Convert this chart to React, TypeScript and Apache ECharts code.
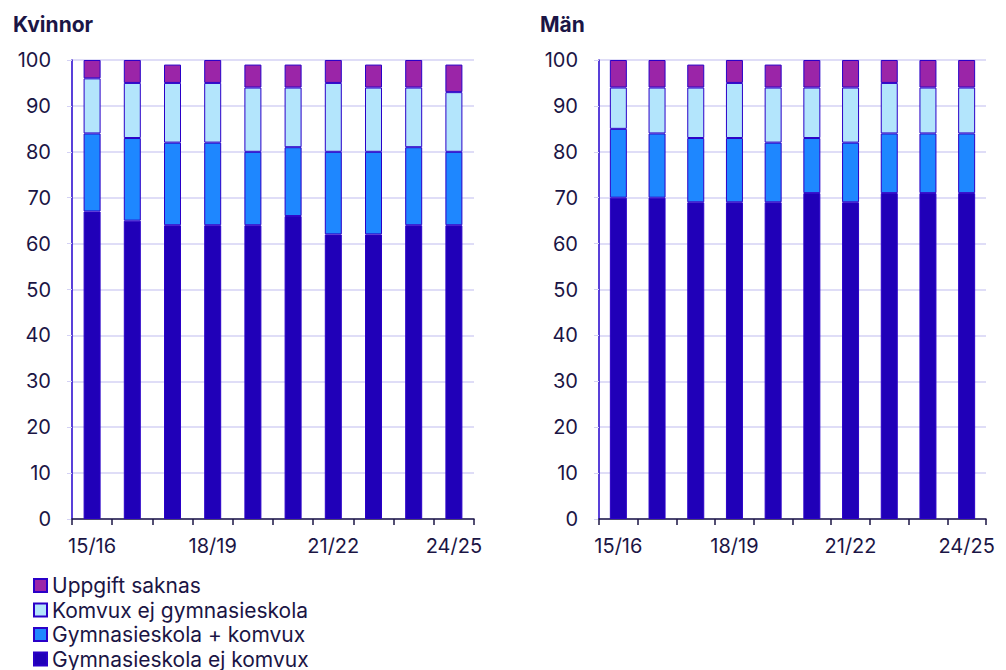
import React, { useEffect, useRef } from "react";
import * as echarts from "echarts";

const categories = ["15/16", "16/17", "17/18", "18/19", "19/20", "20/21", "21/22", "22/23", "23/24", "24/25"];

const seriesNames = [
  "Gymnasieskola ej komvux",
  "Gymnasieskola + komvux",
  "Komvux ej gymnasieskola",
  "Uppgift saknas",
];

const kvinnorEjKomvux = [67, 65, 64, 64, 64, 66, 62, 62, 64, 64];
const kvinnorGymKomvux = [17, 18, 18, 18, 16, 15, 18, 18, 17, 16];
const kvinnorKomvuxEjGym = [12, 12, 13, 13, 14, 13, 15, 14, 13, 13];
const kvinnorSaknas = [4, 5, 4, 5, 5, 5, 5, 5, 6, 6];

const manEjKomvux = [70, 70, 69, 69, 69, 71, 69, 71, 71, 71];
const manGymKomvux = [15, 14, 14, 14, 13, 12, 13, 13, 13, 13];
const manKomvuxEjGym = [9, 10, 11, 12, 12, 11, 12, 11, 10, 10];
const manSaknas = [6, 6, 5, 5, 5, 6, 6, 5, 6, 6];

const colors = ["#2000b8", "#1e87ff", "#b3e5fc", "#9b25a8"];
const FONT = "Inter, 'Noto Sans', sans-serif";
const TEXT = "#1b1545";

export default function App() {
  const ref = useRef<HTMLDivElement>(null);
  useEffect(() => {
    if (!ref.current) return;
    const chart = echarts.init(ref.current, null, { renderer: "svg" });
    const grids = [
      { left: 72, top: 60, width: 402, height: 459 },
      { left: 599, top: 60, width: 387, height: 459 },
    ];
    const xAxis = grids.map((_, i) => ({
      type: "category",
      gridIndex: i,
      data: categories,
      axisLine: { lineStyle: { color: TEXT, width: 1.5 } },
      axisTick: { show: true, interval: 0, length: 6, lineStyle: { color: TEXT, width: 1.5 } },
      axisLabel: { interval: 2, margin: 17, fontSize: 20, color: TEXT, fontFamily: FONT },
    }));
    const yAxis = grids.map((_, i) => ({
      type: "value",
      gridIndex: i,
      min: 0,
      max: 100,
      interval: 10,
      axisLine: { show: true, lineStyle: { color: "#2200cc", width: 1.5 } },
      axisTick: { show: true, length: 5, lineStyle: { color: "#d4d2f4" } },
      axisLabel: { margin: 21, fontSize: 20, color: TEXT, fontFamily: FONT },
      splitLine: { lineStyle: { color: "#d4d2f4", width: 1.5 } },
    }));
    const kv = [kvinnorEjKomvux, kvinnorGymKomvux, kvinnorKomvuxEjGym, kvinnorSaknas];
    const mn = [manEjKomvux, manGymKomvux, manKomvuxEjGym, manSaknas];
    const series: any[] = [];
    [kv, mn].forEach((set, gi) => {
      set.forEach((vals, si) => {
        series.push({
          type: "bar",
          name: seriesNames[si],
          xAxisIndex: gi,
          yAxisIndex: gi,
          stack: "s" + gi,
          data: vals,
          barWidth: 17,
          itemStyle: { color: colors[si], borderColor: "#2a00c8", borderWidth: 1 },
        });
      });
    });
    chart.setOption({
      animation: false,
      color: colors,
      title: [
        { text: "Kvinnor", left: 8, top: 9, textStyle: { fontSize: 21, fontWeight: "bold", color: TEXT, fontFamily: FONT } },
        { text: "Män", left: 535, top: 9, textStyle: { fontSize: 21, fontWeight: "bold", color: TEXT, fontFamily: FONT } },
      ],
      grid: grids,
      xAxis,
      yAxis,
      legend: {
        orient: "vertical",
        left: 33,
        top: 575,
        height: 200,
        padding: 0,
        itemWidth: 13,
        itemHeight: 13,
        itemGap: 3.5,
        icon: "rect",
        data: [seriesNames[3], seriesNames[2], seriesNames[1], seriesNames[0]],
        textStyle: { fontSize: 21, lineHeight: 20, color: TEXT, fontFamily: FONT, padding: [0, 0, 0, 0] },
      },
      series,
    });
    return () => chart.dispose();
  }, []);
  return <div ref={ref} style={{ width: 1006, height: 670, position: "absolute", left: 0, top: 0 }} />;
}
